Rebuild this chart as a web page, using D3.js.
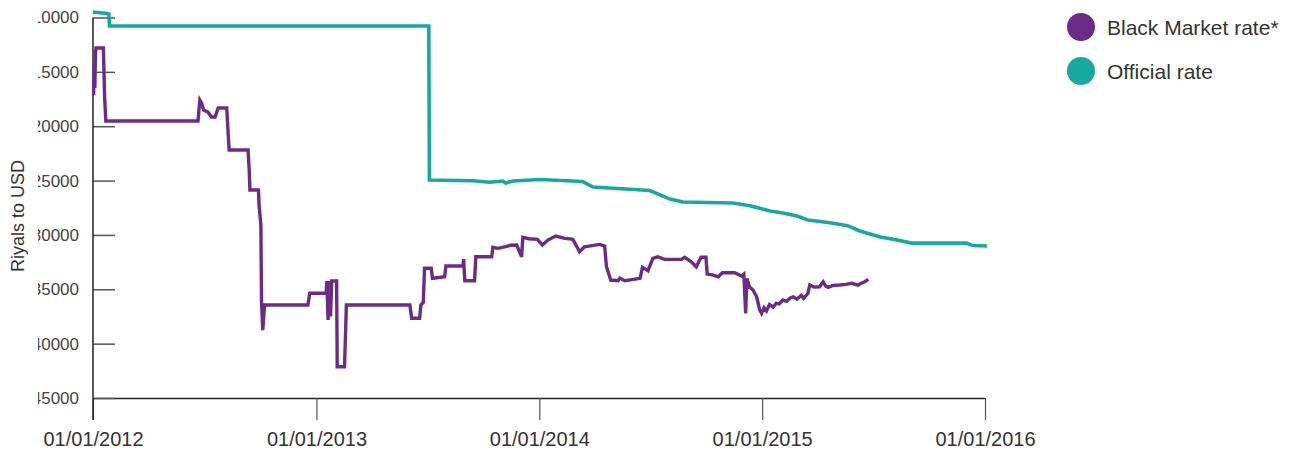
<!DOCTYPE html>
<html>
<head>
<meta charset="utf-8">
<script src="https://cdn.jsdelivr.net/npm/d3@7"></script>
<style>
  body { margin: 0; background: #fff; }
  text { font-family: "Liberation Sans", Arial, sans-serif; fill: #333; }
</style>
</head>
<body>
<div id="chart"></div>
<script>
// values (rials per USD)
var blackMarket = [
  ["2012-01-02",17130],["2012-01-03",14190],["2012-01-04",16490],["2012-01-05",13270],
  ["2012-01-06",12810],["2012-01-18",12810],["2012-01-20",17310],["2012-01-22",19520],
  ["2012-06-21",19520],["2012-06-24",17590],["2012-06-27",17870],["2012-06-30",18510],
  ["2012-07-07",18690],["2012-07-13",19150],["2012-07-19",19150],["2012-07-24",18330],
  ["2012-08-07",18330],["2012-08-10",21270],["2012-08-11",22190],["2012-09-11",22190],
  ["2012-09-13",24210],["2012-09-14",25870],["2012-09-28",25870],["2012-09-29",27250],
  ["2012-10-02",29090],["2012-10-03",36150],["2012-10-05",38750],["2012-10-08",36450],
  ["2012-12-18",36450],["2012-12-21",35370],["2013-01-17",35370],["2013-01-18",34240],
  ["2013-01-20",37830],["2013-01-22",34240],["2013-01-24",37500],["2013-01-26",34240],
  ["2013-02-03",34240],["2013-02-04",42130],["2013-02-16",42130],["2013-02-19",36450],
  ["2013-06-03",36450],["2013-06-06",37670],["2013-06-19",37670],["2013-06-21",36450],
  ["2013-06-25",36200],["2013-06-27",33070],["2013-07-08",33070],["2013-07-10",33990],
  ["2013-07-30",33850],["2013-08-01",32860],["2013-08-29",32860],["2013-08-30",32220],
  ["2013-09-01",34210],["2013-09-17",34210],["2013-09-19",32010],["2013-10-15",32010],
  ["2013-10-17",31140],["2013-10-25",31230],["2013-11-05",31100],["2013-11-15",30950],
  ["2013-11-25",30930],["2013-12-03",32010],["2013-12-05",30220],["2013-12-15",30350],
  ["2013-12-29",30410],["2014-01-06",30930],["2014-01-15",30470],["2014-01-28",30100],
  ["2014-02-10",30300],["2014-02-25",30410],["2014-03-08",31550],["2014-03-16",31090],
  ["2014-04-10",30870],["2014-04-18",31020],["2014-04-21",32930],["2014-04-28",34150],
  ["2014-05-10",34210],["2014-05-13",33970],["2014-05-21",34210],["2014-06-15",33990],
  ["2014-06-19",32980],["2014-06-28",33290],["2014-07-06",32150],["2014-07-14",32010],
  ["2014-07-25",32250],["2014-08-22",32250],["2014-08-27",32060],["2014-09-07",32470],
  ["2014-09-15",32930],["2014-09-23",32060],["2014-10-01",32060],["2014-10-03",33600],
  ["2014-10-13",33690],["2014-10-21",33850],["2014-10-28",33480],["2014-11-17",33480],
  ["2014-11-28",33780],["2014-12-02",33600],["2014-12-05",37210],["2014-12-07",34000],
  ["2014-12-11",34770],["2014-12-17",35070],["2014-12-23",35690],["2014-12-28",36900],
  ["2014-12-31",37210],["2015-01-04",36700],["2015-01-08",37000],["2015-01-13",36400],
  ["2015-01-19",36650],["2015-01-24",36290],["2015-01-29",36350],["2015-02-04",35990],
  ["2015-02-10",36100],["2015-02-16",35800],["2015-02-21",35690],["2015-02-27",35900],
  ["2015-03-06",35560],["2015-03-10",35830],["2015-03-17",35370],["2015-03-20",34610],
  ["2015-03-27",34800],["2015-04-05",34770],["2015-04-11",34310],["2015-04-15",34700],
  ["2015-04-19",34820],["2015-04-27",34650],["2015-05-08",34610],["2015-05-18",34550],
  ["2015-05-28",34450],["2015-06-07",34610],["2015-06-12",34450],["2015-06-18",34310],
  ["2015-06-24",34090]
];

var officialRate = [
  ["2012-01-01",9490],["2012-01-24",9630],["2012-01-27",9680],["2012-01-28",10780],
  ["2013-07-04",10780],["2013-07-05",24950],["2013-09-14",25010],["2013-10-12",25160],
  ["2013-11-02",25040],["2013-11-07",25230],["2013-11-19",25040],["2014-01-02",24900],
  ["2014-03-13",25090],["2014-03-30",25590],["2014-07-01",25920],["2014-08-03",26700],
  ["2014-08-24",26970],["2014-11-14",27070],["2014-12-12",27310],["2015-01-14",27800],
  ["2015-02-04",27990],["2015-02-27",28260],["2015-03-17",28630],["2015-04-22",28880],
  ["2015-05-21",29150],["2015-06-10",29640],["2015-07-13",30190],["2015-08-06",30420],
  ["2015-09-03",30750],["2015-12-02",30750],["2015-12-11",30980],["2016-01-04",31020]
];

var yTicks = [10000, 15000, 20000, 25000, 30000, 35000, 40000, 45000];
var xTicks = ["2012-01-01", "2013-01-01", "2014-01-01", "2015-01-01", "2016-01-01"];
var seriesNames = ["Black Market rate*", "Official rate"];
var seriesColors = ["#6b2c88", "#19a89e"];

var parse = d3.timeParse("%Y-%m-%d");

var svg = d3.select("#chart")
            .append("svg")
            .attr("width", 1291)
            .attr("height", 453);

//scales - rates run downwards, 10000 at the top
var x = d3.scaleTime()
          .domain([parse("2012-01-01"), parse("2016-01-01")])
          .range([93, 985]);

var y = d3.scaleLinear()
          .domain([10000, 45000])
          .range([17.5, 398]);

//x axis along the 45000 line
var xAxis = svg.append("g")
               .attr("transform", "translate(0," + y(45000) + ")")
               .call(d3.axisBottom(x)
                       .tickValues(xTicks.map(parse))
                       .tickSize(22)
                       .tickSizeOuter(0)
                       .tickFormat(d3.timeFormat("%d/%m/%Y")));

xAxis.select(".domain").attr("stroke", "#222").attr("stroke-width", 1.5);
xAxis.selectAll(".tick line").attr("stroke", "#555").attr("stroke-width", 1.2);
xAxis.selectAll(".tick text")
     .attr("y", 34)
     .style("font-size", "20px")
     .style("fill", "#333");

//y axis, ticks point into the plot, labels clipped on the left like the original
//(clip rect is in the axis group's own coordinates, which start at x=93)
svg.append("clipPath")
   .attr("id", "ylab-clip")
   .append("rect")
   .attr("x", -55)
   .attr("y", 0)
   .attr("width", 90)
   .attr("height", 453);

var yAxis = svg.append("g")
               .attr("transform", "translate(93,0)")
               .attr("clip-path", "url(#ylab-clip)")
               .call(d3.axisRight(y)
                       .tickValues(yTicks)
                       .tickSize(22)
                       .tickSizeOuter(0)
                       .tickFormat(d3.format("d")));

yAxis.select(".domain").remove();
yAxis.selectAll(".tick line").attr("stroke", "#555").attr("stroke-width", 1.5);
yAxis.selectAll(".tick text")
     .attr("x", -14)
     .attr("text-anchor", "end")
     .style("font-size", "17px")
     .style("fill", "#444");

//vertical axis line runs down to the bottom of the tick marks
svg.append("line")
   .attr("x1", 93).attr("x2", 93)
   .attr("y1", y(10000)).attr("y2", y(45000) + 22)
   .attr("stroke", "#222")
   .attr("stroke-width", 1.5);

svg.append("text")
   .attr("transform", "translate(24," + 216 + ") rotate(-90)")
   .attr("text-anchor", "middle")
   .style("font-size", "18px")
   .text("Riyals to USD");

//lines
var line = d3.line()
             .x(function(d){ return x(parse(d[0])); })
             .y(function(d){ return y(d[1]); });

svg.append("path")
   .datum(officialRate)
   .attr("fill", "none")
   .attr("stroke", seriesColors[1])
   .attr("stroke-width", 3.6)
   .attr("d", line);

svg.append("path")
   .datum(blackMarket)
   .attr("fill", "none")
   .attr("stroke", seriesColors[0])
   .attr("stroke-width", 3.4)
   .attr("d", line);

//legend
var legend = svg.append("g")
                .attr("transform", "translate(1081,27)");

var item = legend.selectAll("g")
                 .data(seriesNames)
                 .enter()
                 .append("g")
                 .attr("transform", function(d, i){ return "translate(0," + (i * 44) + ")"; });

item.append("circle")
    .attr("r", 14)
    .attr("fill", function(d, i){ return seriesColors[i]; });

item.append("text")
    .attr("x", 26)
    .attr("y", 7.5)
    .style("font-size", "21px")
    .text(function(d){ return d; });
</script>
</body>
</html>
